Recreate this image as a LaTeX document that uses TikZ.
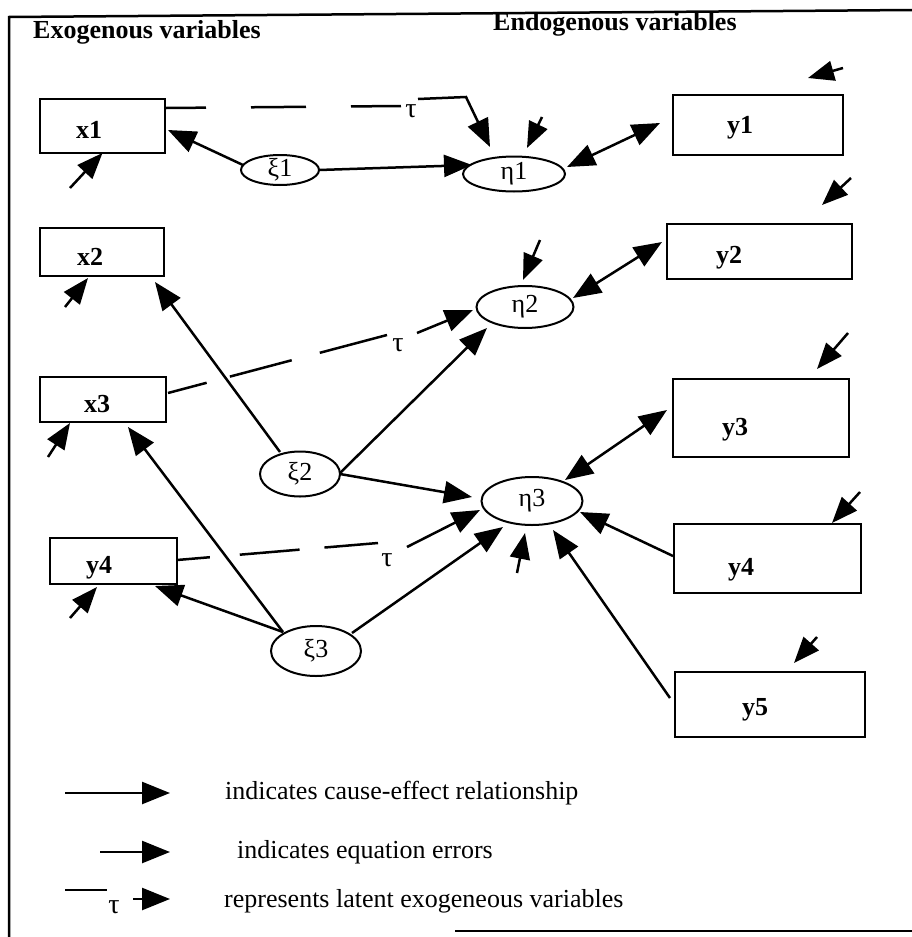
\documentclass[tikz,border=0pt]{standalone}
\usepackage{fontspec}
\setmainfont{Liberation Serif}
\usetikzlibrary{arrows.meta,shapes.geometric}
\tikzset{
  vbox/.style={draw, line width=2pt, inner sep=0pt, outer sep=0pt},
  lat/.style={ellipse, draw, line width=2pt, inner sep=-6pt, outer sep=0pt, font=\fontsize{26}{28}\selectfont},
  var/.style={font=\bfseries\fontsize{26}{30}\selectfont, anchor=base, inner sep=0pt},
  cause/.style={line width=2.5pt, -{Triangle[length=28pt,width=22pt]}},
  both/.style={line width=2.5pt, {Triangle[length=28pt,width=22pt]}-{Triangle[length=28pt,width=22pt]}},
  err/.style={line width=2.5pt, -{Triangle[length=26pt,width=20pt]}},
  taulbl/.style={font=\fontsize{28}{30}\selectfont, inner sep=0pt},
  heading/.style={font=\bfseries\fontsize{26}{30}\selectfont, anchor=base west, inner sep=0pt},
  leg/.style={font=\fontsize{26}{30}\selectfont, anchor=base west, inner sep=0pt},
  frame/.style={line width=2.5pt}
}
\begin{document}
\begin{tikzpicture}[x=1pt,y=-1pt]
\useasboundingbox (0,0) rectangle (912,937);
% frame
\coordinate (fr1) at (912,10);
\coordinate (fr2) at (9,17);
\coordinate (fr3) at (9,937);
\coordinate (fr4) at (455,931);
\coordinate (fr5) at (912,931);
\draw[frame] (fr1) -- (fr2) -- (fr3);
\draw[frame] (fr4) -- (fr5);
% headings
\node[heading] (hexo) at (33,38) {Exogenous variables};
\node[heading] (hendo) at (493,30) {Endogenous variables};
% observed boxes
\node[vbox, minimum width=125pt, minimum height=54pt] (x1) at (102.5,126) {};
\node[vbox, minimum width=124pt, minimum height=48pt] (x2) at (102,252) {};
\node[vbox, minimum width=126pt, minimum height=45pt] (x3) at (103,399.5) {};
\node[vbox, minimum width=127pt, minimum height=46pt] (y4L) at (113.5,561) {};
\node[vbox, minimum width=170pt, minimum height=60pt] (y1) at (758,125) {};
\node[vbox, minimum width=185pt, minimum height=55pt] (y2) at (759.5,251.5) {};
\node[vbox, minimum width=176pt, minimum height=78pt] (y3) at (761,418) {};
\node[vbox, minimum width=187pt, minimum height=69pt] (y4R) at (767.5,558.5) {};
\node[vbox, minimum width=190pt, minimum height=65pt] (y5) at (770,704.5) {};
% box labels
\node[var] (x1l) at (89,138) {x1};
\node[var] (x2l) at (90,265) {x2};
\node[var] (x3l) at (97,412) {x3};
\node[var] (y4Ll) at (99,573) {y4};
\node[var] (y1l) at (740,133) {y1};
\node[var] (y2l) at (729,263) {y2};
\node[var] (y3l) at (735,435) {y3};
\node[var] (y4Rl) at (741,575) {y4};
\node[var] (y5l) at (755,715) {y5};
% latent ellipses
\node[lat, minimum width=78pt, minimum height=30pt] (xi1) at (280,170) {ξ1};
\node[lat, minimum width=102pt, minimum height=35pt] (eta1) at (514,174) {η1};
\node[lat, minimum width=97pt, minimum height=42pt] (eta2) at (525,307) {η2};
\node[lat, minimum width=80pt, minimum height=45pt] (xi2) at (300,474) {ξ2};
\node[lat, minimum width=101pt, minimum height=48pt] (eta3) at (532,501) {η3};
\node[lat, minimum width=90pt, minimum height=50pt] (xi3) at (316,651) {ξ3};
% structural arrows
\draw[cause] ([shift={(-37,-5)}]xi1.center) -- ([shift={(65.5,4)}]x1.center);
\draw[cause] (xi1.east) -- ([shift={(-42,-9)}]eta1.center);
\draw[cause] ([shift={(-20,-22)}]xi2.center) -- ([shift={(53,30)}]x2.center);
\draw[cause] ([shift={(-33,-19)}]xi3.center) -- ([shift={(25,27.5)}]x3.center);
\draw[cause] ([shift={(-33,-19)}]xi3.center) -- ([shift={(41.5,25)}]y4L.center);
\draw[cause] ([shift={(40,-1)}]xi2.center) -- ([shift={(-38,21)}]eta2.center);
\draw[cause] ([shift={(40,0)}]xi2.center) -- ([shift={(-60,-4)}]eta3.center);
\draw[cause] ([shift={(36,-18)}]xi3.center) -- ([shift={(-29,26)}]eta3.center);
\draw[both] ([shift={(53,-7)}]eta1.center) -- ([shift={(-98,-2)}]y1.center);
\draw[both] ([shift={(48,-9)}]eta2.center) -- ([shift={(-97.5,-9.5)}]y2.center);
\draw[both] ([shift={(33,-21)}]eta3.center) -- ([shift={(-94,-8)}]y3.center);
\draw[cause] ([shift={(-94.5,-2.5)}]y4R.center) -- ([shift={(48,11)}]eta3.center);
\draw[cause] ([shift={(-100,-6.5)}]y5.center) -- ([shift={(21,29)}]eta3.center);
% error arrows
\coordinate (ex1) at (70,188);
\coordinate (ex2) at (65,307);
\coordinate (ex3) at (48,457);
\coordinate (ey4L) at (70,618);
\coordinate (eeta1) at (542,117);
\coordinate (ey1) at (843,68);
\coordinate (ey2) at (851,178);
\coordinate (eeta2) at (540,240);
\coordinate (ey3) at (848,333);
\coordinate (eeta3) at (517,573);
\coordinate (ey4R) at (860,492);
\coordinate (ey5) at (817,637);
\draw[err] (ex1) -- (x1.south);
\draw[err] (ex2) -- ([shift={(-14,26)}]x2.center);
\draw[err] (ex3) -- ([shift={(-33,23.5)}]x3.center);
\draw[err] (ey4L) -- ([shift={(-16.5,26)}]y4L.center);
\draw[err] (eeta1) -- ([shift={(13,-26)}]eta1.center);
\draw[err] (ey1) -- ([shift={(50,-47)}]y1.center);
\draw[err] (ey2) -- ([shift={(62.5,-46.5)}]y2.center);
\draw[err] (eeta2) -- ([shift={(-2,-27)}]eta2.center);
\draw[err] (ey3) -- ([shift={(56,-49)}]y3.center);
\draw[err] (eeta3) -- ([shift={(-7,32)}]eta3.center);
\draw[err] (ey4R) -- ([shift={(64.5,-35.5)}]y4R.center);
\draw[err] (ey5) -- ([shift={(24,-41.5)}]y5.center);
% tau paths
\coordinate (t1a) at (401,106);
\coordinate (t1b) at (418,99);
\coordinate (t1c) at (466,97);
\draw[line width=2.5pt, dash pattern=on 40pt off 45pt on 55pt off 45pt on 50pt off 20pt] ([shift={(63.5,-18)}]x1.center) -- (t1a);
\node[taulbl] (tau1) at (411,111) {τ};
\draw[cause] (t1b) -- (t1c) -- ([shift={(-24,-27)}]eta1.center);
\coordinate (t2a) at (387,335);
\coordinate (t2b) at (417,333);
\draw[line width=2.5pt, dash pattern=on 40pt off 24pt on 64pt off 29pt on 70pt off 20pt] ([shift={(65,-6.5)}]x3.center) -- (t2a);
\node[taulbl] (tau2) at (398,345) {τ};
\draw[cause] (t2b) -- ([shift={(-52,3)}]eta2.center);
\coordinate (t3a) at (378,543);
\coordinate (t3b) at (407,547);
\draw[line width=2.5pt, dash pattern=on 33pt off 30pt on 60pt off 25pt on 54pt off 20pt] ([shift={(63.5,-1)}]y4L.center) -- (t3a);
\node[taulbl] (tau3) at (387,560) {τ};
\draw[cause] (t3b) -- ([shift={(-52,9)}]eta3.center);
% legend
\coordinate (l1a) at (65,793);
\coordinate (l1b) at (170,793);
\draw[cause] (l1a) -- (l1b);
\node[leg] (leg1) at (225,799) {indicates cause-effect relationship};
\coordinate (l2a) at (100,852);
\coordinate (l2b) at (170,852);
\draw[cause] (l2a) -- (l2b);
\node[leg] (leg2) at (237,858) {indicates equation errors};
\coordinate (l3a) at (65,890);
\coordinate (l3b) at (107,890);
\draw[line width=2.5pt] (l3a) -- (l3b);
\node[taulbl] (tau4) at (114,907) {τ};
\coordinate (l3c) at (133,899);
\coordinate (l3d) at (170,899);
\draw[cause] (l3c) -- (l3d);
\node[leg] (leg3) at (224,907) {represents latent exogeneous variables};
\end{tikzpicture}
\end{document}
